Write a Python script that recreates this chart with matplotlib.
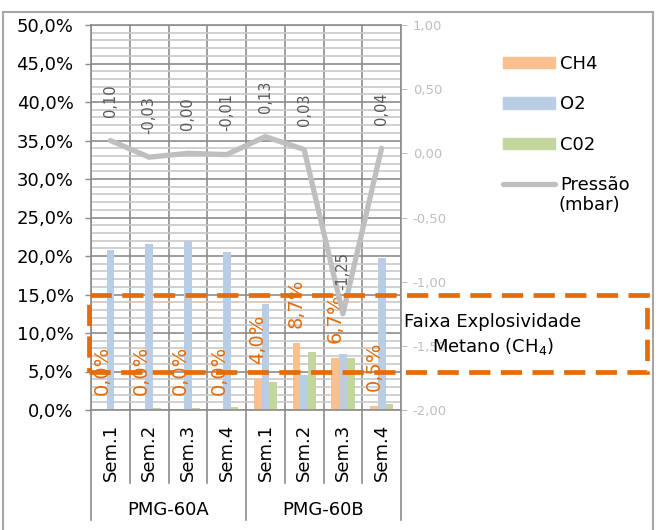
import matplotlib.pyplot as plt
from matplotlib import transforms
from matplotlib.lines import Line2D
from matplotlib.patches import Patch, Rectangle
from matplotlib.ticker import FuncFormatter, MultipleLocator

weeks = ["Sem.1", "Sem.2", "Sem.3", "Sem.4", "Sem.1", "Sem.2", "Sem.3", "Sem.4"]
groups = ["PMG-60A", "PMG-60B"]
ch4 = [0.0, 0.0, 0.0, 0.0, 4.0, 8.7, 6.7, 0.5]
o2 = [20.8, 21.6, 21.9, 20.5, 13.8, 4.5, 7.3, 19.7]
co2 = [0.1, 0.2, 0.2, 0.4, 3.6, 7.5, 6.7, 0.8]
pressure = [0.10, -0.03, 0.00, -0.01, 0.13, 0.03, -1.25, 0.04]
band = (5.0, 15.0)  # faixa explosiva do metano, em %

c_ch4 = "#FAC090"
c_o2 = "#B9CDE5"
c_co2 = "#C3D69B"
c_press = "#BFBFBF"
c_orange = "#E46C0A"
c_grid = "#8C8C8C"

plt.rcParams["font.family"] = "DejaVu Sans"

W, H = 663, 530
fig = plt.figure(figsize=(W / 100, H / 100), dpi=100)
ax = fig.add_axes([91 / W, 1 - 410 / H, 310 / W, 385 / H])

x = list(range(len(weeks)))
bw = 0.2
ax.bar([i - bw for i in x], ch4, bw, color=c_ch4, zorder=2)
ax.bar(x, o2, bw, color=c_o2, zorder=2)
ax.bar([i + bw for i in x], co2, bw, color=c_co2, zorder=2)

ax.set_xlim(-0.5, len(weeks) - 0.5)
ax.set_ylim(0, 50)
ax.yaxis.set_major_locator(MultipleLocator(5))
ax.yaxis.set_minor_locator(MultipleLocator(1))
ax.yaxis.set_major_formatter(FuncFormatter(lambda v, p: f"{v:.1f}%".replace(".", ",")))
ax.tick_params(axis="y", which="major", labelsize=13, length=4.5, width=1, color=c_grid, pad=8)
ax.tick_params(axis="y", which="minor", length=0)
ax.set_xticks(x)
ax.set_xticklabels(weeks, rotation=90, fontsize=13)
ax.tick_params(axis="x", length=0, pad=10)
ax.set_xticks([i - 0.5 for i in range(len(weeks) + 1)], minor=True)
ax.tick_params(axis="x", which="minor", length=0)
ax.grid(True, which="major", axis="y", color=c_grid, lw=1.2)
ax.grid(True, which="minor", axis="y", color="#C8C8C8", lw=1.2)
ax.grid(True, which="minor", axis="x", color=c_grid, lw=1.2)
ax.set_axisbelow(True)
for s in ax.spines.values():
  s.set_color(c_grid)
  s.set_linewidth(1.2)

# separadores do eixo de categorias
xt = ax.get_xaxis_transform()
for i in range(len(weeks) + 1):
  y_end = -0.286 if i % 4 == 0 else -0.19
  ax.plot([i - 0.5, i - 0.5], [0, y_end], color=c_grid, lw=1.2, transform=xt, clip_on=False)
for g, name in enumerate(groups):
  ax.text(g * 4 + 1.5, -0.26, name, transform=xt, ha="center", va="center", fontsize=13)

# rotulos CH4
for i, v in enumerate(ch4):
  ax.annotate(f"{v:.1f}%".replace(".", ","), (i - bw, v), xytext=(0, 11), textcoords="offset points",
              rotation=90, ha="center", va="bottom", fontsize=14, color=c_orange, zorder=3)

# eixo secundario: pressao
ax2 = ax.twinx()
ax2.plot(x, pressure, color=c_press, lw=3.8, solid_capstyle="round", solid_joinstyle="round")
ax2.set_ylim(-2, 1)
ax2.yaxis.set_major_locator(MultipleLocator(0.5))
ax2.yaxis.set_major_formatter(FuncFormatter(lambda v, p: f"{v:.2f}".replace(".", ",")))
ax2.tick_params(axis="y", labelsize=9.5, labelcolor=c_press, color=c_press, length=4.5, pad=4)
for s in ax2.spines.values():
  s.set_visible(False)
for i, v in enumerate(pressure):
  ax2.annotate(f"{v:.2f}".replace(".", ","), (i, v), xytext=(0, 17), textcoords="offset points",
               rotation=90, ha="center", va="bottom", fontsize=10.5, color="#595959")

# legenda
handles = [
  Patch(color=c_ch4, label="CH4"),
  Patch(color=c_o2, label="O2"),
  Patch(color=c_co2, label="C02"),
  Line2D([], [], color=c_press, lw=3.8, solid_capstyle="round", label="Pressão"),
]
fig.legend(handles=handles, loc="upper left", bbox_to_anchor=(503 / W, 1 - 55 / H), frameon=False,
           fontsize=13, handlelength=2.9, handleheight=0.6, handletextpad=0.25, labelspacing=1.24,
           borderpad=0, borderaxespad=0)
fig.text(559 / W, 1 - 205 / H, "(mbar)", ha="left", va="center", fontsize=13)

# faixa de explosividade (retangulo tracejado)
bt = transforms.blended_transform_factory(fig.transFigure, ax.transData)
rect = Rectangle((89 / W, band[0]), (647 - 89) / W, band[1] - band[0], transform=bt, fill=False,
                 edgecolor=c_orange, lw=3.4, linestyle=(0, (4.5, 2.2)), clip_on=False, zorder=5)
fig.add_artist(rect)
fig.text(493 / W, 1 - 335 / H, "Faixa Explosividade\nMetano (CH$_4$)", ha="center", va="center",
         fontsize=13, linespacing=1.3, zorder=6)

# borda do grafico
fig.add_artist(Rectangle((3 / W, -0.02), 650 / W, 1 - 12 / H + 0.02, transform=fig.transFigure,
                         fill=False, edgecolor="#A6A6A6", lw=1.5))

fig.savefig("out.png", dpi=100)
